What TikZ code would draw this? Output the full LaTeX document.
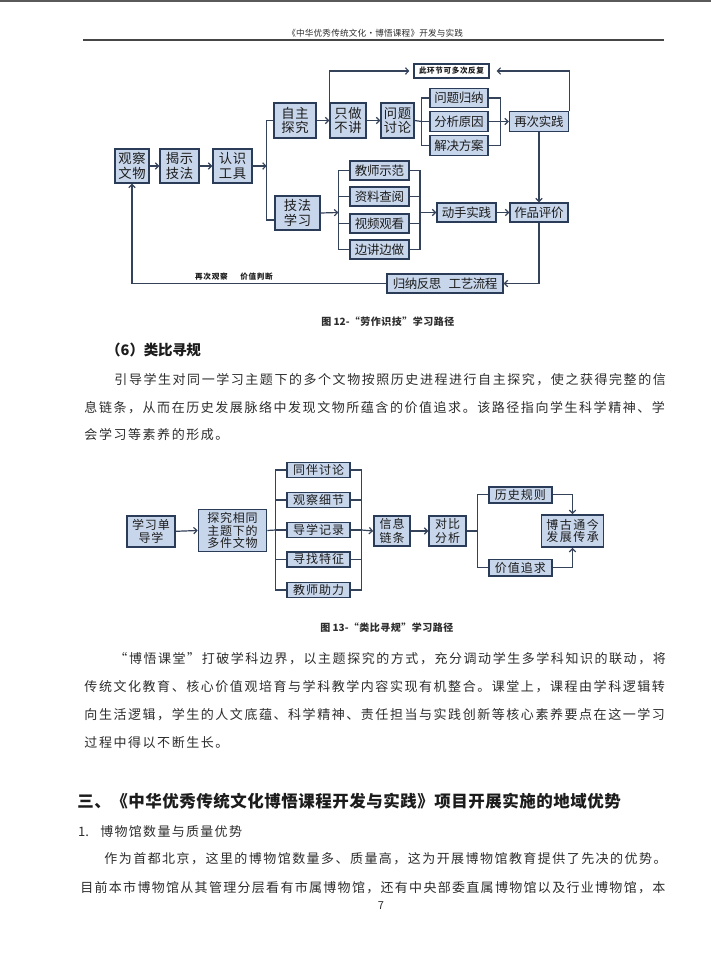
\documentclass[tikz,border=0pt]{standalone}
\usepackage{fontspec}
\setmainfont{Noto Sans CJK SC}
\usetikzlibrary{arrows.meta}
\definecolor{bfill}{RGB}{200,214,235}
\definecolor{bdr}{RGB}{42,60,88}
\definecolor{lnc}{RGB}{52,66,90}
\definecolor{txt}{RGB}{28,28,28}
\definecolor{ptxt}{RGB}{45,45,45}
\ExplSyntaxOn
\NewDocumentCommand{\cj}{mm}{\tl_map_inline:nn {#2} {\hbox to #1pt {\hss ##1\hss}}}
\ExplSyntaxOff
\tikzset{
  box/.style={draw=bdr, fill=bfill, line width=1.4pt, inner sep=0pt, align=center, text=txt,
    font=\fontsize{12.5}{14}\selectfont},
  box2l/.style={box, font=\fontsize{13.3}{14.5}\selectfont},
  boxb/.style={box, line width=1.7pt, font=\fontsize{12}{13}\selectfont},
  ln/.style={draw=lnc, line width=1.2pt},
  arr/.style={ln, -{Straight Barb[length=3.2pt,width=6.5pt]}},
  ptext/.style={anchor=west, inner sep=0pt, text=ptxt, font=\fontsize{13}{15}\selectfont},
}
\begin{document}
\begin{tikzpicture}[x=1pt,y=-1pt]
\useasboundingbox[fill=white] (0,0) rectangle (711,963);
% page border and header
\draw[line width=2.5pt, draw={rgb,255:red,90;green,90;blue,90}] (0,1) -- (711,1);
\node[anchor=west, inner sep=0pt, text=ptxt, font=\fontsize{8.6}{10}\selectfont] (hdr) at (287,33) {\cj{8.8}{《中华优秀传统文化·博悟课程》开发与实践}};
\draw[line width=1.1pt, draw={rgb,255:red,70;green,70;blue,70}] (83,40) -- (664,40);

% ---------------- Diagram 1 ----------------
\node[box2l, minimum width=34pt, minimum height=34pt] (gc) at (132,166) {\cj{14}{观察}\\\cj{14}{文物}};
\node[box2l, minimum width=39pt, minimum height=34pt] (js) at (179.5,166) {\cj{14}{揭示}\\\cj{14}{技法}};
\node[box2l, minimum width=39pt, minimum height=34pt] (rs) at (232.5,166) {\cj{14}{认识}\\\cj{14}{工具}};
\node[box2l, minimum width=42pt, minimum height=35pt] (zz) at (295,120.5) {\cj{14}{自主}\\\cj{14}{探究}};
\node[box2l, minimum width=45pt, minimum height=34pt] (jf) at (297.5,213) {\cj{14}{技法}\\\cj{14}{学习}};
\node[box2l, minimum width=36pt, minimum height=35pt] (zb) at (348,120.5) {\cj{14}{只做}\\\cj{14}{不讲}};
\node[box2l, minimum width=33pt, minimum height=35pt] (wt) at (397.5,120.5) {\cj{14}{问题}\\\cj{14}{讨论}};
\node[box, minimum width=58pt, minimum height=19.5pt] (wg) at (459,98) {\cj{12.3}{问题归纳}};
\node[box, minimum width=58pt, minimum height=19.5pt] (fx) at (459,121.5) {\cj{12.3}{分析原因}};
\node[box, minimum width=58pt, minimum height=19.5pt] (jj) at (459,145.5) {\cj{12.3}{解决方案}};
\node[box, minimum width=59pt, minimum height=20pt] (zc) at (539,121.5) {\cj{12.3}{再次实践}};
\node[draw=bdr, fill=white, line width=1.1pt, inner sep=0pt, minimum width=75pt, minimum height=14pt,
  text=txt, font=\bfseries\fontsize{7.6}{9}\selectfont] (lp) at (451.5,71) {\cj{8.2}{此环节可多次反复}};
\node[box, minimum width=59pt, minimum height=19pt] (jsf) at (379.5,170.5) {\cj{12.3}{教师示范}};
\node[box, minimum width=59pt, minimum height=19pt] (zl) at (379.5,196.5) {\cj{12.3}{资料查阅}};
\node[box, minimum width=59pt, minimum height=19pt] (sp) at (379.5,223.5) {\cj{12.3}{视频观看}};
\node[box, minimum width=59pt, minimum height=19pt] (bj) at (379.5,249.5) {\cj{12.3}{边讲边做}};
\node[box, minimum width=59pt, minimum height=19pt] (ds) at (466.5,212.5) {\cj{12.3}{动手实践}};
\node[box, minimum width=58pt, minimum height=19pt] (zp) at (539,212.5) {\cj{12.3}{作品评价}};
\node[box, minimum width=116pt, minimum height=19pt] (gn) at (445,283.5) {\cj{12}{归纳反思}\hspace{8pt}\cj{12}{工艺流程}};
\node[inner sep=0pt, text=txt, font=\bfseries\fontsize{7.6}{9}\selectfont] (lbl) at (234,277) {\cj{8.3}{再次观察}\hspace{12pt}\cj{8.3}{价值判断}};

\coordinate (b1) at (266.7,166);
\coordinate (b2) at (421.7,121.5);
\coordinate (b3) at (500.7,121.5);
\coordinate (b4) at (338.3,212.5);
\coordinate (b5) at (420,212.5);

\draw[arr] (gc.east) -- (js.west);
\draw[arr] (js.east) -- (rs.west);
\draw[arr] (rs.east) -- (b1);
\draw[ln] (zz.west) -| (b1) |- ([yshift=-7pt]jf.west);
\draw[arr] (zz.east) -- (zb.west);
\draw[arr] (zb.east) -- (wt.west);
\draw[ln] (wt.east) -- (b2);
\draw[ln] (wg.west) -| (b2) |- (jj.west);
\draw[ln] (fx.west) -- (b2);
\draw[ln] (wg.east) -| (b3) |- (jj.east);
\draw[ln] (fx.east) -- (b3);
\draw[arr] (b3) -- (zc.west);
\draw[arr, shorten >=4pt] (zb.north west) |- (lp.west);
\draw[arr, shorten >=7pt] (zc.north east) |- (lp.east);
\draw[arr] (zc.south) -- (zp.north);
\draw[arr] (jf.east) -- (b4);
\draw[ln] (jsf.west) -| (b4) |- (bj.west);
\draw[ln] (zl.west) -- (zl.west -| b4);
\draw[ln] (sp.west) -- (sp.west -| b4);
\draw[ln] (jsf.east) -| (b5) |- (bj.east);
\draw[ln] (zl.east) -- (zl.east -| b5);
\draw[ln] (sp.east) -- (sp.east -| b5);
\draw[arr] (b5) -- (ds.west);
\draw[arr] (ds.east) -- (zp.west);
\draw[arr] (zp.south) |- (gn.east);
\draw[arr] (gn.west) -| (gc.south);

% captions and paragraph
\node[inner sep=0pt, text=ptxt, font=\bfseries\fontsize{10}{12}\selectfont] (cap1) at (388,322) {图 12-\cj{10.5}{“劳作识技”学习路径}};
\node[anchor=west, inner sep=0pt, text=txt, font=\bfseries\fontsize{14.5}{16}\selectfont] (h6) at (106,350) {（6）\cj{14.2}{类比寻规}};
\node[ptext] (p1a) at (113.5,380) {\cj{14.55}{引导学生对同一学习主题下的多个文物按照历史进程进行自主探究，使之获得完整的信}};
\node[ptext] (p1b) at (83.5,408) {\cj{14.55}{息链条，从而在历史发展脉络中发现文物所蕴含的价值追求。该路径指向学生科学精神、学}};
\node[ptext] (p1c) at (83.5,435) {\cj{14.55}{会学习等素养的形成。}};

% ---------------- Diagram 2 ----------------
\node[boxb, minimum width=48pt, minimum height=31pt] (xx) at (151,531.3) {\cj{12.8}{学习单}\\\cj{12.8}{导学}};
\node[boxb, minimum width=68pt, minimum height=42pt, font=\fontsize{12}{12.6}\selectfont] (tj) at (232.5,530.5) {\cj{12.8}{探究相同}\\\cj{12.8}{主题下的}\\\cj{12.8}{多件文物}};
\node[boxb, minimum width=63pt, minimum height=15pt] (t1) at (318.7,470) {\cj{13}{同伴讨论}};
\node[boxb, minimum width=63pt, minimum height=15pt] (t2) at (318.7,500) {\cj{13}{观察细节}};
\node[boxb, minimum width=63pt, minimum height=15pt] (t3) at (318.7,530) {\cj{13}{导学记录}};
\node[boxb, minimum width=63pt, minimum height=15pt] (t4) at (318.7,559.2) {\cj{13}{寻找特征}};
\node[boxb, minimum width=63pt, minimum height=15pt] (t5) at (318.7,590) {\cj{13}{教师助力}};
\node[boxb, minimum width=36pt, minimum height=30pt, font=\fontsize{12}{14.5}\selectfont] (xl) at (392,531) {\cj{13}{信息}\\\cj{13}{链条}};
\node[boxb, minimum width=37pt, minimum height=30pt, font=\fontsize{12}{14.5}\selectfont] (db) at (447.7,531) {\cj{13}{对比}\\\cj{13}{分析}};
\node[boxb, minimum width=63pt, minimum height=16pt] (ls) at (520.3,494.7) {\cj{13}{历史规则}};
\node[boxb, minimum width=63pt, minimum height=16.5pt] (jz) at (520.3,567.7) {\cj{13}{价值追求}};
\node[boxb, minimum width=62pt, minimum height=32pt, font=\fontsize{12}{12.6}\selectfont] (bg) at (572.5,531) {\cj{13.5}{博古通今}\\\cj{13.5}{发展传承}};

\coordinate (c1) at (275.7,530);
\coordinate (c2) at (361.7,530);
\coordinate (c3) at (477.3,531);

\draw[arr] (xx.east) -- (tj.west);
\draw[ln] (tj.east) -- (c1);
\draw[ln] (t1.west) -| (c1) |- (t5.west);
\draw[ln] (t2.west) -- (t2.west -| c1);
\draw[ln] (t3.west) -- (c1);
\draw[ln] (t4.west) -- (t4.west -| c1);
\draw[ln] (t1.east) -| (c2) |- (t5.east);
\draw[ln] (t2.east) -- (t2.east -| c2);
\draw[ln] (t3.east) -- (c2);
\draw[ln] (t4.east) -- (t4.east -| c2);
\draw[arr] (c2) -- (xl.west);
\draw[arr] (xl.east) -- (db.west);
\draw[ln] (db.east) -- (c3);
\draw[ln] (ls.west) -| (c3) |- (jz.west);
\draw[arr] (ls.east) -| (bg.north);
\draw[arr] (jz.east) -| (bg.south);

% caption 2 and paragraph 2
\node[inner sep=0pt, text=ptxt, font=\bfseries\fontsize{10}{12}\selectfont] (cap2) at (387,628) {图 13-\cj{10.5}{“类比寻规”学习路径}};
\node[ptext] (p2a) at (113.5,659) {\cj{14.55}{“博悟课堂”打破学科边界，以主题探究的方式，充分调动学生多学科知识的联动，将}};
\node[ptext] (p2b) at (83.5,687) {\cj{14.55}{传统文化教育、核心价值观培育与学科教学内容实现有机整合。课堂上，课程由学科逻辑转}};
\node[ptext] (p2c) at (83.5,715) {\cj{14.55}{向生活逻辑，学生的人文底蕴、科学精神、责任担当与实践创新等核心素养要点在这一学习}};
\node[ptext] (p2d) at (83.5,743) {\cj{14.55}{过程中得以不断生长。}};

% section heading
\node[anchor=west, inner sep=0pt, text=txt, font=\bfseries\fontsize{16.5}{18}\selectfont] (sec) at (77,801) {\cj{17}{三、《中华优秀传统文化博悟课程开发与实践》项目开展实施的地域优势}};
\node[anchor=west, inner sep=0pt, text=ptxt, font=\fontsize{13}{15}\selectfont] (s1n) at (78,832) {1.};
\node[ptext] (s1) at (99.5,832) {\cj{14.3}{博物馆数量与质量优势}};
\node[ptext] (p3a) at (103.5,859) {\cj{14.45}{作为首都北京，这里的博物馆数量多、质量高，这为开展博物馆教育提供了先决的优势。}};
\node[ptext] (p3b) at (79.5,888) {\cj{14.3}{目前本市博物馆从其管理分层看有市属博物馆，还有中央部委直属博物馆以及行业博物馆，本}};
\node[inner sep=0pt, text=ptxt, font=\fontsize{11}{12}\selectfont] (pg) at (381,906) {7};
\end{tikzpicture}
\end{document}
